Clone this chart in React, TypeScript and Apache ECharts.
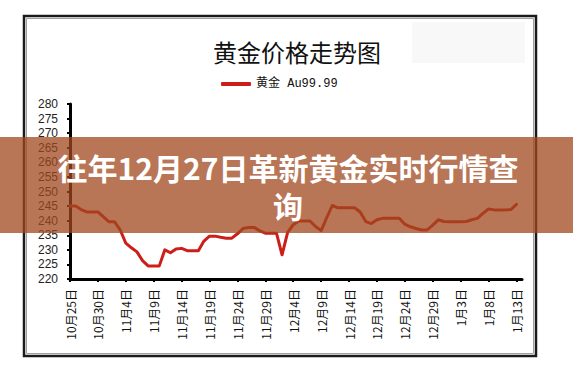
import React, { useEffect, useRef } from "react";
import * as echarts from "echarts";

// Daily categories from 10月25日 to 1月14日 (labels shown every 5 days)
const startMonth = 10;
const startDay = 25;
const dayCount = 82;
const monthLengths: Record<number, number> = { 10: 31, 11: 30, 12: 31, 1: 31 };
const categories: string[] = [];
{
  let m = startMonth;
  let d = startDay;
  for (let i = 0; i < dayCount; i++) {
    categories.push(`${m}月${d}日`);
    d++;
    if (d > monthLengths[m]) {
      d = 1;
      m = m === 12 ? 1 : m + 1;
    }
  }
}

// 黄金 Au99.99 price (one value per day)
const goldValues = [
  245, 245, 243.8, 243, 243, 243, 241.3, 239.6, 239.6, 236.8,
  232.3, 230.7, 229.3, 226.3, 224.5, 224.5, 224.5, 230, 229, 230.3,
  230.5, 229.7, 229.7, 229.7, 233, 234.7, 234.7, 234.3, 234, 234,
  235.5, 237.3, 237.7, 237.7, 236.5, 235.7, 235.7, 235.7, 228.3, 236,
  238.6, 239.9, 239.9, 239.9, 238, 236.6, 241, 245.2, 244.4, 244.4,
  244.4, 244.4, 243, 239.7, 239, 240.3, 240.8, 240.8, 240.8, 240.8,
  238.8, 237.9, 237.3, 236.8, 236.8, 238.5, 240.3, 239.7, 239.6, 239.6,
  239.6, 239.7, 240.3, 240.8, 242.5, 244, 243.7, 243.7, 243.7, 243.8,
  245.6,
];

const seriesName = "黄金 Au99.99";
const chartTitle = "黄金价格走势图";
const bannerText = "往年12月27日革新黄金实时行情查\n询";
const yMin = 220;
const yMax = 280;
const yStep = 5;

export default function App() {
  const ref = useRef<HTMLDivElement>(null);
  useEffect(() => {
    document.body.style.margin = "0";
    const chart = echarts.init(ref.current!, null, { renderer: "svg" });
    chart.setOption({
      animation: false,
      backgroundColor: "#ffffff",
      title: {
        text: chartTitle,
        left: 213,
        top: 39,
        padding: 0,
        textStyle: {
          fontFamily: '"Noto Sans CJK SC"',
          fontSize: 24,
          fontWeight: "normal",
          color: "#111",
        },
      },
      legend: {
        data: [{ name: seriesName, icon: "roundRect" }],
        left: 221,
        top: 78,
        padding: 0,
        itemWidth: 30,
        itemHeight: 4,
        itemGap: 6,
        textStyle: {
          fontFamily: '"Liberation Mono", "Noto Sans CJK SC"',
          fontSize: 12,
          color: "#111",
        },
      },
      grid: { left: 70, right: 51, top: 104, bottom: 91, containLabel: false },
      xAxis: {
        type: "category",
        data: categories,
        boundaryGap: false,
        axisLine: { lineStyle: { color: "#000", width: 3 } },
        axisTick: { interval: 4, length: 3, lineStyle: { color: "#000", width: 2 } },
        axisLabel: {
          interval: 4,
          rotate: 90,
          margin: 10,
          fontSize: 12,
          fontFamily: '"Noto Sans CJK SC"',
          color: "#111",
          padding: [5, 0, 0, 0],
        },
        splitLine: { show: false },
      },
      yAxis: {
        type: "value",
        min: yMin,
        max: yMax,
        interval: yStep,
        axisLine: { show: true, lineStyle: { color: "#000", width: 3 } },
        axisTick: { show: true, length: 3, lineStyle: { color: "#000", width: 2 } },
        axisLabel: {
          margin: 12,
          fontSize: 12,
          fontFamily: '"Liberation Sans", Arial',
          color: "#222",
        },
        splitLine: { show: false },
      },
      series: [
        {
          name: seriesName,
          type: "line",
          data: goldValues,
          showSymbol: false,
          symbol: "none",
          color: "#cc1f1a",
          lineStyle: { color: "#cc1f1a", width: 3, join: "round", cap: "round" },
          z: 3,
        },
      ],
      graphic: {
        elements: [
          {
            type: "rect",
            z: 1,
            shape: { x: 24, y: 16, width: 512, height: 340 },
            style: { fill: "none", stroke: "#1a1a1a", lineWidth: 2.5 },
          },
          {
            type: "rect",
            z: 1,
            shape: { x: 26.5, y: 18.5, width: 507, height: 335 },
            style: { fill: "none", stroke: "#a0a0a0", lineWidth: 1 },
          },
          {
            type: "rect",
            z: 0,
            shape: { x: 412, y: 22, width: 113, height: 41 },
            style: { fill: "#f9f8f9" },
          },
          {
            type: "rect",
            z: 100,
            shape: { x: 0, y: 137, width: 573, height: 96 },
            style: { fill: "rgba(160,72,31,0.75)" },
          },
          {
            type: "text",
            z: 101,
            x: 288,
            y: 186,
            style: {
              text: bannerText,
              fill: "#ffffff",
              fontSize: 30,
              fontWeight: "bold",
              fontFamily: '"Noto Sans CJK SC"',
              lineHeight: 38,
              align: "center",
              verticalAlign: "middle",
              textAlign: "center",
              textVerticalAlign: "middle",
            },
          },
        ],
      },
    });
    return () => chart.dispose();
  }, []);
  return <div ref={ref} style={{ width: 573, height: 370 }} />;
}
